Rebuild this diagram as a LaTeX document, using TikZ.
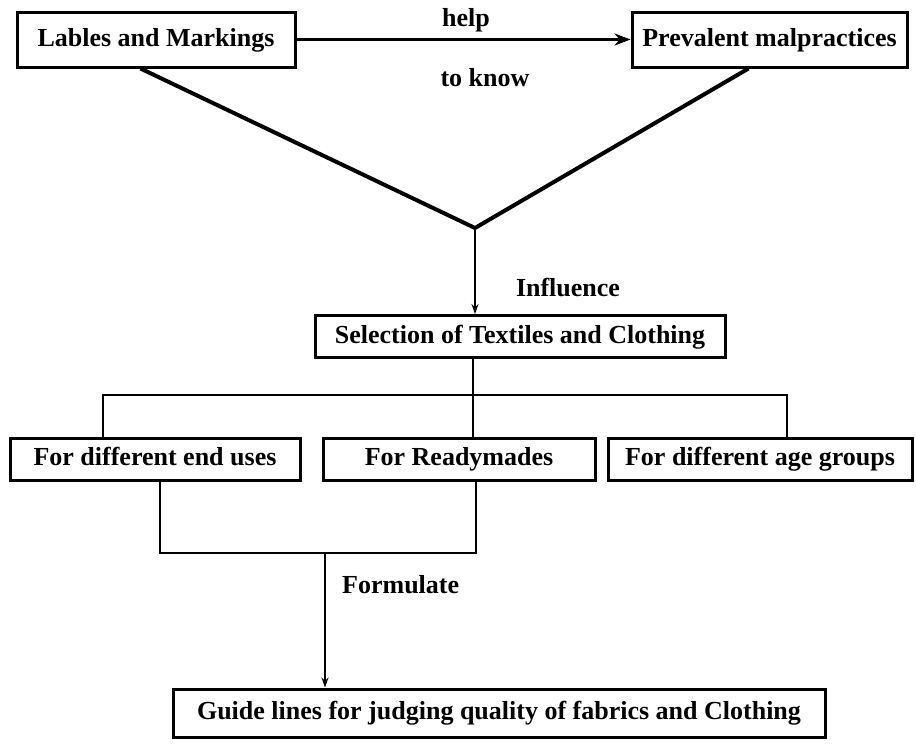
\documentclass[tikz,border=0pt]{standalone}
\usepackage{fontspec}
\setmainfont{Liberation Serif}
\usetikzlibrary{arrows.meta}
\begin{document}
\begin{tikzpicture}[x=1pt,y=-1pt,
  box/.style={draw,line width=3pt,rectangle,inner sep=0pt,text height=18pt,text depth=5pt,font=\fontsize{26}{28}\selectfont\bfseries},
  lbl/.style={inner sep=0pt,font=\fontsize{26}{28}\selectfont\bfseries},
  vline/.style={line width=4pt},
  tline/.style={line width=2pt},
  bigarrow/.style={line width=3pt,-{Stealth[length=16pt,width=12pt]}},
  smallarrow/.style={line width=2.2pt,-{Stealth[length=10pt,width=7pt]}}]
\useasboundingbox (0,0) rectangle (916,744);
\node[box,minimum width=278pt,minimum height=55pt] (lab) at (156,39.5) {Lables and Markings};
\node[box,minimum width=275pt,minimum height=55pt] (prev) at (769.5,39.5) {Prevalent malpractices};
\node[lbl] (help) at (466,20) {help};
\node[lbl] (know) at (485,78) {to know};
\draw[bigarrow] (lab.east) -- (prev.west);
\coordinate (apex) at (475,228);
\node[box,minimum width=410pt,minimum height=42pt] (sel) at (520,336.5) {Selection of Textiles and Clothing};
\node[lbl] (infl) at (568,288) {Influence};
\draw[vline,line join=miter] ([xshift=125pt]lab.south west) -- (apex) -- ([xshift=118pt]prev.south west);
\draw[smallarrow] (apex) -- (apex |- sel.north);
\coordinate (tree) at (473,395);
\node[box,minimum width=290pt,minimum height=42pt] (m1) at (155,459) {For different end uses};
\node[box,minimum width=272pt,minimum height=42pt] (rm) at (459,459) {For Readymades};
\node[box,minimum width=304pt,minimum height=42pt] (m3) at (760,459) {For different age groups};
\draw[tline] (sel.south -| tree) -- (rm.north -| tree);
\draw[tline] ([xshift=94pt]m1.north west) |- (tree) -| ([xshift=180pt]m3.north west);
\coordinate (brk) at (325,553);
\draw[tline] ([xshift=151pt]m1.south west) |- (brk) -| ([xshift=154pt]rm.south west);
\node[box,minimum width=652pt,minimum height=48pt] (bot) at (499,713) {Guide lines for judging quality of fabrics and Clothing};
\node[lbl,anchor=west] (form) at (342,585) {Formulate};
\draw[smallarrow] (brk) -- (brk |- bot.north);
\end{tikzpicture}
\end{document}
